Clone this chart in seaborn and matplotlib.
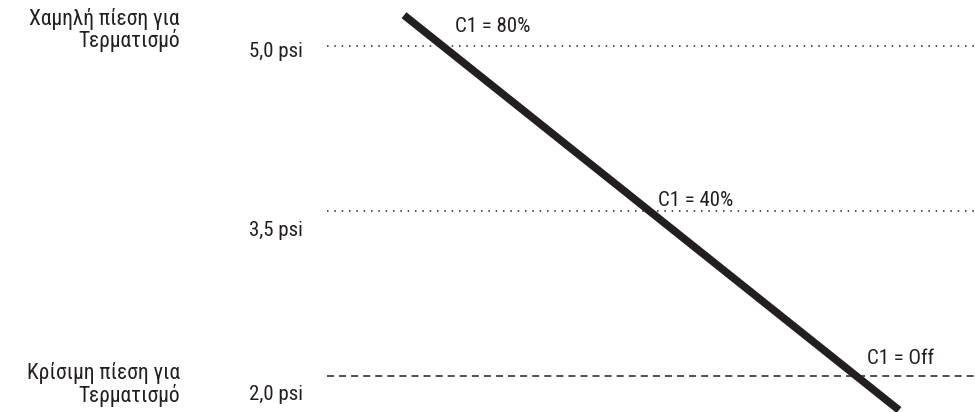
import matplotlib
matplotlib.use("Agg")
import matplotlib.pyplot as plt
from matplotlib import font_manager
import seaborn as sns
import pandas as pd

# ---- data ----
levels = [5.0, 3.5, 2.0]
level_labels = ["5,0 psi", "3,5 psi", "2,0 psi"]
level_styles = ["dotted", "dotted", "dashed"]
ctrl_labels = ["C1 = 80%", "C1 = 40%", "C1 = Off"]
line_x = [404, 899]
line_psi = [5.28, 1.69]
left_top = ["Χαμηλή πίεση για", "Τερματισμό"]
left_bottom = ["Κρίσιμη πίεση για", "Τερματισμό"]

sns.set_theme(style="white")
names = {f.name for f in font_manager.fontManager.ttflist}
cands = ["Liberation Sans Narrow", "Arial Narrow", "Roboto Condensed",
         "Fira Sans Condensed", "Open Sans Condensed", "PT Sans Narrow",
         "Archivo Narrow", "Liberation Sans"]
fam = next(c for c in cands if c in names)
plt.rcParams["font.family"] = [fam, "DejaVu Sans"]

PX = 110.0  # pixels per psi
def py(p):
    return 5.0 - (p - 46) / PX

fig = plt.figure(figsize=(9.75, 4.12), dpi=100)
ax = fig.add_axes([0, 0, 1, 1])
ax.set_xlim(0, 975)
ax.set_ylim(py(412), py(0))
ax.axis("off")

tc = "#231f20"
FS = 15
FSG = 15.5
label_y = [51, 230, 394]
ctrl_pos = [(455, 26), (658, 200), (867, 359)]
for i, (lv, lab, st) in enumerate(zip(levels, level_labels, level_styles)):
    df = pd.DataFrame({"x": [327, 975], "y": [lv, lv]})
    ls = (0, (1, 3.8)) if st == "dotted" else (0, (4.6, 3.3))
    sns.lineplot(data=df, x="x", y="y", ax=ax, color=tc, lw=1.1, linestyle=ls)
    ax.text(249, py(label_y[i]), lab, ha="left", va="center", fontsize=FS, color=tc)

dfl = pd.DataFrame({"x": line_x, "y": line_psi})
sns.lineplot(data=dfl, x="x", y="y", ax=ax, color="#231f20", lw=5.5,
             solid_capstyle="butt")

for lab, (x, y) in zip(ctrl_labels, ctrl_pos):
    ax.text(x, py(y), lab, ha="left", va="center", fontsize=FS, color=tc)

for txt, y in zip(left_top, [19, 41]):
    ax.text(180, py(y), txt, ha="right", va="center", fontsize=FSG, color=tc)
for txt, y in zip(left_bottom, [373, 395]):
    ax.text(180, py(y), txt, ha="right", va="center", fontsize=FSG, color=tc)

fig.savefig("out.png", dpi=100, facecolor="white")
